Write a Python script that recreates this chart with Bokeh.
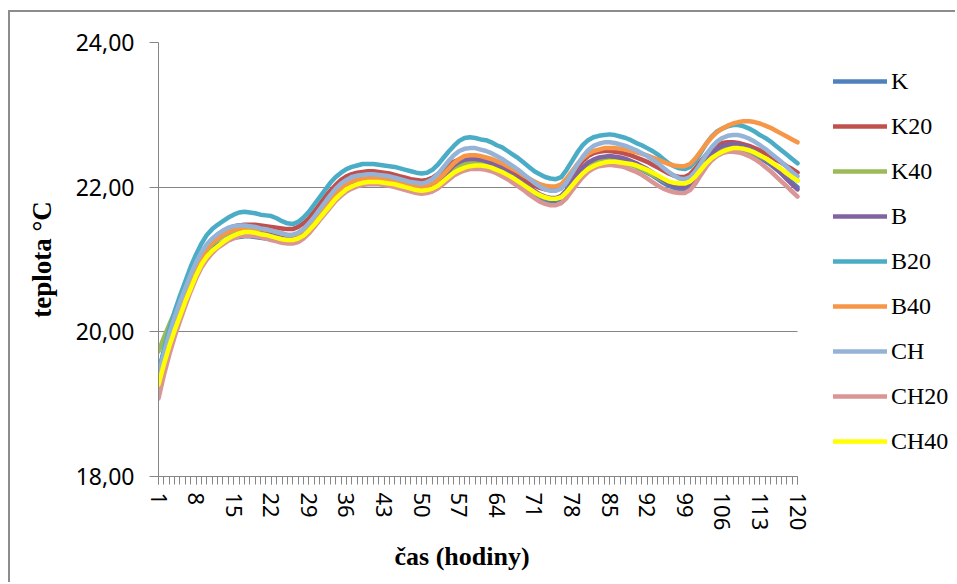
from bokeh.plotting import figure
from bokeh.models import (Range1d, FixedTicker, Legend, LegendItem,
                          Title, ColumnDataSource)
from bokeh.embed import file_html
from bokeh.resources import INLINE

hours = list(range(1, 121))

K = [19.45, 19.72, 19.96, 20.17, 20.36, 20.54, 20.71, 20.86, 20.98, 21.08,
     21.15, 21.20, 21.24, 21.27, 21.30, 21.31, 21.32, 21.32, 21.31, 21.30,
     21.29, 21.28, 21.27, 21.26, 21.26, 21.26, 21.29, 21.34, 21.42, 21.51,
     21.61, 21.71, 21.80, 21.89, 21.96, 22.01, 22.04, 22.06, 22.07, 22.08,
     22.08, 22.07, 22.06, 22.05, 22.04, 22.02, 22.00, 21.98, 21.97, 21.96,
     21.97, 22.00, 22.05, 22.12, 22.19, 22.25, 22.29, 22.31, 22.32, 22.32,
     22.31, 22.29, 22.26, 22.23, 22.19, 22.14, 22.09, 22.04, 21.99, 21.94,
     21.89, 21.85, 21.82, 21.81, 21.81, 21.84, 21.92, 22.03, 22.14, 22.23,
     22.30, 22.34, 22.36, 22.38, 22.38, 22.37, 22.36, 22.34, 22.31, 22.28,
     22.24, 22.20, 22.16, 22.11, 22.06, 22.02, 21.99, 21.97, 21.97, 22.01,
     22.10, 22.21, 22.32, 22.41, 22.48, 22.52, 22.54, 22.55, 22.54, 22.52,
     22.49, 22.45, 22.41, 22.36, 22.31, 22.25, 22.19, 22.12, 22.06, 22.00]

K20 = [19.42, 19.71, 19.97, 20.19, 20.39, 20.58, 20.76, 20.92, 21.06, 21.17,
       21.26, 21.33, 21.38, 21.42, 21.45, 21.47, 21.48, 21.48, 21.48, 21.47,
       21.46, 21.45, 21.44, 21.43, 21.42, 21.42, 21.45, 21.50, 21.57, 21.66,
       21.76, 21.86, 21.95, 22.03, 22.10, 22.15, 22.18, 22.20, 22.21, 22.22,
       22.22, 22.21, 22.20, 22.19, 22.17, 22.15, 22.13, 22.11, 22.10, 22.09,
       22.10, 22.13, 22.18, 22.24, 22.30, 22.35, 22.38, 22.39, 22.39, 22.38,
       22.37, 22.35, 22.33, 22.30, 22.27, 22.23, 22.19, 22.15, 22.10, 22.06,
       22.02, 21.99, 21.97, 21.96, 21.96, 21.99, 22.07, 22.17, 22.27, 22.36,
       22.43, 22.47, 22.49, 22.50, 22.50, 22.49, 22.48, 22.46, 22.44, 22.41,
       22.38, 22.35, 22.31, 22.27, 22.23, 22.19, 22.16, 22.14, 22.14, 22.18,
       22.26, 22.36, 22.45, 22.53, 22.58, 22.61, 22.62, 22.62, 22.61, 22.59,
       22.57, 22.54, 22.51, 22.47, 22.43, 22.38, 22.34, 22.29, 22.25, 22.20]

K40 = [19.73, 19.92, 20.10, 20.27, 20.43, 20.59, 20.75, 20.90, 21.03, 21.13,
       21.21, 21.27, 21.32, 21.36, 21.39, 21.41, 21.42, 21.42, 21.41, 21.39,
       21.38, 21.36, 21.34, 21.32, 21.31, 21.31, 21.33, 21.38, 21.45, 21.54,
       21.63, 21.72, 21.81, 21.90, 21.97, 22.02, 22.06, 22.08, 22.09, 22.10,
       22.10, 22.09, 22.08, 22.07, 22.06, 22.04, 22.02, 22.00, 21.99, 21.98,
       21.99, 22.02, 22.07, 22.13, 22.20, 22.26, 22.30, 22.33, 22.34, 22.34,
       22.33, 22.31, 22.28, 22.25, 22.21, 22.17, 22.12, 22.07, 22.02, 21.97,
       21.92, 21.88, 21.85, 21.84, 21.84, 21.87, 21.95, 22.05, 22.15, 22.24,
       22.30, 22.34, 22.36, 22.37, 22.37, 22.36, 22.35, 22.33, 22.31, 22.28,
       22.25, 22.21, 22.17, 22.13, 22.09, 22.05, 22.03, 22.02, 22.02, 22.06,
       22.14, 22.25, 22.35, 22.43, 22.49, 22.52, 22.54, 22.55, 22.54, 22.53,
       22.50, 22.47, 22.43, 22.39, 22.34, 22.29, 22.24, 22.19, 22.14, 22.09]

B = [19.38, 19.67, 19.93, 20.16, 20.37, 20.57, 20.76, 20.92, 21.06, 21.18,
     21.27, 21.34, 21.39, 21.43, 21.46, 21.47, 21.47, 21.46, 21.44, 21.42,
     21.40, 21.38, 21.36, 21.34, 21.33, 21.33, 21.35, 21.40, 21.47, 21.55,
     21.64, 21.73, 21.82, 21.91, 21.98, 22.03, 22.07, 22.10, 22.11, 22.12,
     22.12, 22.11, 22.10, 22.09, 22.07, 22.05, 22.03, 22.01, 22.00, 21.99,
     22.00, 22.03, 22.08, 22.15, 22.23, 22.30, 22.35, 22.38, 22.39, 22.39,
     22.38, 22.36, 22.33, 22.30, 22.26, 22.21, 22.16, 22.11, 22.05, 22.00,
     21.95, 21.90, 21.87, 21.85, 21.85, 21.88, 21.96, 22.07, 22.18, 22.27,
     22.34, 22.38, 22.41, 22.42, 22.43, 22.42, 22.41, 22.39, 22.36, 22.33,
     22.29, 22.25, 22.20, 22.15, 22.10, 22.05, 22.02, 22.00, 22.00, 22.04,
     22.13, 22.25, 22.36, 22.46, 22.53, 22.57, 22.59, 22.60, 22.59, 22.57,
     22.54, 22.50, 22.45, 22.39, 22.33, 22.26, 22.19, 22.11, 22.04, 21.97]

B20 = [19.43, 19.75, 20.03, 20.28, 20.50, 20.70, 20.90, 21.07, 21.22, 21.34,
       21.42, 21.48, 21.53, 21.58, 21.62, 21.65, 21.66, 21.65, 21.64, 21.62,
       21.61, 21.60, 21.57, 21.53, 21.50, 21.49, 21.52, 21.58, 21.66, 21.76,
       21.86, 21.96, 22.06, 22.14, 22.20, 22.25, 22.28, 22.30, 22.32, 22.32,
       22.32, 22.31, 22.30, 22.29, 22.28, 22.26, 22.24, 22.22, 22.20, 22.19,
       22.20, 22.24, 22.31, 22.40, 22.49, 22.57, 22.64, 22.68, 22.69, 22.68,
       22.66, 22.65, 22.62, 22.58, 22.55, 22.50, 22.45, 22.40, 22.34, 22.28,
       22.22, 22.18, 22.14, 22.12, 22.11, 22.14, 22.24, 22.36, 22.48, 22.58,
       22.65, 22.69, 22.71, 22.72, 22.73, 22.72, 22.70, 22.68, 22.65, 22.61,
       22.58, 22.54, 22.50, 22.45, 22.39, 22.33, 22.29, 22.26, 22.25, 22.28,
       22.36, 22.48, 22.60, 22.70, 22.77, 22.81, 22.84, 22.86, 22.86, 22.84,
       22.81, 22.77, 22.72, 22.68, 22.63, 22.57, 22.51, 22.45, 22.39, 22.33]

B40 = [19.35, 19.65, 19.92, 20.15, 20.36, 20.55, 20.74, 20.90, 21.04, 21.15,
       21.23, 21.29, 21.34, 21.38, 21.41, 21.43, 21.44, 21.44, 21.43, 21.42,
       21.41, 21.40, 21.38, 21.36, 21.34, 21.34, 21.36, 21.41, 21.48, 21.56,
       21.65, 21.74, 21.83, 21.92, 21.99, 22.04, 22.08, 22.10, 22.11, 22.12,
       22.12, 22.12, 22.11, 22.10, 22.09, 22.07, 22.05, 22.03, 22.02, 22.01,
       22.02, 22.05, 22.10, 22.17, 22.25, 22.33, 22.39, 22.43, 22.44, 22.44,
       22.43, 22.41, 22.39, 22.36, 22.33, 22.29, 22.25, 22.21, 22.16, 22.12,
       22.08, 22.04, 22.02, 22.01, 22.01, 22.04, 22.12, 22.22, 22.32, 22.40,
       22.46, 22.50, 22.52, 22.54, 22.54, 22.54, 22.53, 22.52, 22.50, 22.48,
       22.46, 22.44, 22.41, 22.38, 22.35, 22.32, 22.30, 22.29, 22.29, 22.32,
       22.40, 22.50, 22.60, 22.69, 22.76, 22.81, 22.85, 22.88, 22.90, 22.91,
       22.91, 22.90, 22.88, 22.85, 22.82, 22.78, 22.74, 22.70, 22.66, 22.62]

CH = [19.40, 19.70, 19.97, 20.20, 20.41, 20.60, 20.79, 20.96, 21.10, 21.21,
      21.29, 21.35, 21.40, 21.44, 21.46, 21.47, 21.47, 21.46, 21.45, 21.43,
      21.42, 21.40, 21.38, 21.36, 21.34, 21.34, 21.37, 21.42, 21.50, 21.59,
      21.69, 21.79, 21.89, 21.98, 22.05, 22.10, 22.14, 22.16, 22.17, 22.18,
      22.18, 22.17, 22.16, 22.15, 22.13, 22.11, 22.09, 22.07, 22.06, 22.05,
      22.07, 22.11, 22.18, 22.27, 22.36, 22.44, 22.50, 22.53, 22.54, 22.54,
      22.52, 22.50, 22.47, 22.43, 22.39, 22.34, 22.29, 22.24, 22.18, 22.12,
      22.06, 22.01, 21.97, 21.95, 21.95, 21.98, 22.07, 22.19, 22.31, 22.42,
      22.51, 22.57, 22.60, 22.62, 22.62, 22.61, 22.59, 22.57, 22.54, 22.51,
      22.47, 22.43, 22.38, 22.33, 22.27, 22.21, 22.16, 22.12, 22.11, 22.14,
      22.22, 22.33, 22.45, 22.55, 22.63, 22.68, 22.71, 22.72, 22.72, 22.70,
      22.67, 22.63, 22.58, 22.53, 22.47, 22.41, 22.35, 22.28, 22.21, 22.15]

CH20 = [19.08, 19.40, 19.68, 19.93, 20.15, 20.36, 20.56, 20.74, 20.89, 21.00,
        21.09, 21.16, 21.21, 21.26, 21.29, 21.32, 21.33, 21.33, 21.32, 21.31,
        21.29, 21.27, 21.25, 21.23, 21.22, 21.22, 21.24, 21.29, 21.36, 21.45,
        21.54, 21.63, 21.72, 21.81, 21.88, 21.94, 21.98, 22.01, 22.03, 22.04,
        22.04, 22.04, 22.03, 22.02, 22.00, 21.98, 21.96, 21.94, 21.92, 21.91,
        21.92, 21.94, 21.98, 22.04, 22.10, 22.16, 22.20, 22.23, 22.25, 22.25,
        22.25, 22.24, 22.22, 22.19, 22.15, 22.11, 22.06, 22.01, 21.96, 21.90,
        21.85, 21.80, 21.77, 21.75, 21.75, 21.78, 21.85, 21.95, 22.05, 22.14,
        22.21, 22.26, 22.29, 22.30, 22.31, 22.30, 22.29, 22.27, 22.24, 22.21,
        22.17, 22.12, 22.07, 22.02, 21.98, 21.95, 21.93, 21.92, 21.92, 21.96,
        22.05, 22.17, 22.28, 22.37, 22.43, 22.47, 22.49, 22.49, 22.48, 22.46,
        22.43, 22.39, 22.34, 22.28, 22.22, 22.15, 22.08, 22.01, 21.94, 21.87]

CH40 = [19.27, 19.55, 19.80, 20.02, 20.22, 20.42, 20.60, 20.78, 20.93, 21.04,
        21.12, 21.18, 21.24, 21.29, 21.33, 21.36, 21.38, 21.38, 21.37, 21.35,
        21.34, 21.32, 21.30, 21.28, 21.27, 21.27, 21.29, 21.33, 21.40, 21.48,
        21.57, 21.66, 21.75, 21.84, 21.91, 21.97, 22.01, 22.04, 22.06, 22.07,
        22.07, 22.07, 22.06, 22.05, 22.04, 22.02, 22.00, 21.98, 21.96, 21.95,
        21.96, 21.98, 22.02, 22.08, 22.14, 22.20, 22.24, 22.27, 22.29, 22.30,
        22.30, 22.29, 22.27, 22.24, 22.21, 22.17, 22.13, 22.08, 22.03, 21.98,
        21.93, 21.89, 21.86, 21.84, 21.84, 21.86, 21.93, 22.02, 22.11, 22.19,
        22.25, 22.29, 22.32, 22.34, 22.35, 22.35, 22.34, 22.33, 22.32, 22.30,
        22.27, 22.24, 22.20, 22.16, 22.12, 22.08, 22.06, 22.05, 22.05, 22.08,
        22.15, 22.24, 22.33, 22.40, 22.45, 22.49, 22.52, 22.54, 22.54, 22.53,
        22.51, 22.48, 22.44, 22.40, 22.35, 22.30, 22.25, 22.19, 22.14, 22.09]

series_names = ["K", "K20", "K40", "B", "B20", "B40", "CH", "CH20", "CH40"]
series_values = [K, K20, K40, B, B20, B40, CH, CH20, CH40]
series_colors = ["#4F81BD", "#C0504D", "#9BBB59", "#8064A2", "#4BACC6",
                 "#F79646", "#95B3D7", "#D99694", "#FFFF00"]

x_ticks = [1, 8, 15, 22, 29, 36, 43, 50, 57, 64, 71, 78, 85, 92, 99, 106, 113, 120]
y_ticks = [18, 20, 22, 24]
y_tick_labels = ["18,00", "20,00", "22,00", "24,00"]

AXIS_GRAY = "#868686"
SERIF = "Liberation Serif"
SANS = "Noto Sans"

# layout: plot area 639 px wide for hours 1..120, then 160 px of legend space
PLOT_W = 639
LEGEND_W = 160
x_end = 120 + LEGEND_W * (120 - 1) / PLOT_W

p = figure(width=947, height=572, output_backend="svg", toolbar_location=None,
           x_range=Range1d(1, x_end), y_range=Range1d(18, 24),
           min_border_left=148, min_border_right=0,
           min_border_top=30, min_border_bottom=108)
p.margin = (10, 0, 0, 8)
p.styles = {"border-left": "2px solid #8c8c8c", "border-top": "2px solid #8c8c8c"}
p.outline_line_color = None
p.background_fill_color = "white"
p.border_fill_color = "white"

# grid
p.xgrid.grid_line_color = None
p.ygrid.grid_line_color = AXIS_GRAY
p.ygrid.grid_line_width = 1
p.ygrid.ticker = FixedTicker(ticks=y_ticks)
p.ygrid.cross_bounds = (1, 120)

# x axis
xa = p.xaxis[0]
xa.bounds = (1, 120)
xa.ticker = FixedTicker(ticks=x_ticks, minor_ticks=hours)
xa.axis_line_color = AXIS_GRAY
xa.major_tick_line_color = AXIS_GRAY
xa.minor_tick_line_color = AXIS_GRAY
xa.major_tick_out = 8
xa.major_tick_in = 0
xa.minor_tick_out = 8
xa.minor_tick_in = 0
xa.major_label_orientation = "vertical"
xa.major_label_standoff = 8
xa.major_label_text_font = SANS
xa.major_label_text_font_size = "22px"
xa.major_label_text_color = "black"

# y axis
ya = p.yaxis[0]
ya.ticker = FixedTicker(ticks=y_ticks)
ya.major_label_overrides = {t: s for t, s in zip(y_ticks, y_tick_labels)}
ya.axis_line_color = AXIS_GRAY
ya.major_tick_line_color = AXIS_GRAY
ya.minor_tick_line_color = None
ya.major_tick_out = 9
ya.major_tick_in = 0
ya.major_label_standoff = 15
ya.major_label_text_font = SANS
ya.major_label_text_font_size = "23px"
ya.major_label_text_color = "black"
ya.axis_label = "teplota °C"
ya.axis_label_text_font = SERIF
ya.axis_label_text_font_style = "bold"
ya.axis_label_text_font_size = "27px"
ya.axis_label_text_color = "black"
ya.axis_label_standoff = 16

# x axis title
xt = Title(text="čas (hodiny)", align="left", offset=236,
           text_font=SERIF, text_font_style="bold", text_font_size="26px",
           text_color="black", standoff=12)
p.add_layout(xt, "below")

items = []
for name, vals, col in zip(series_names, series_values, series_colors):
    src = ColumnDataSource(dict(x=hours, y=vals))
    r = p.line("x", "y", source=src, line_color=col, line_width=4.5,
               line_join="round", line_cap="round")
    items.append(LegendItem(label=name, renderers=[r]))

legend = Legend(items=items, location=(PLOT_W + 36, 20), orientation="vertical",
                glyph_width=54, glyph_height=30, label_height=30,
                label_standoff=4, spacing=15, padding=0, margin=0,
                label_text_font=SERIF, label_text_font_size="24px",
                label_text_color="black", background_fill_alpha=0,
                border_line_color=None)
p.add_layout(legend, "center")

open("out.html", "w").write(file_html(p, INLINE))
